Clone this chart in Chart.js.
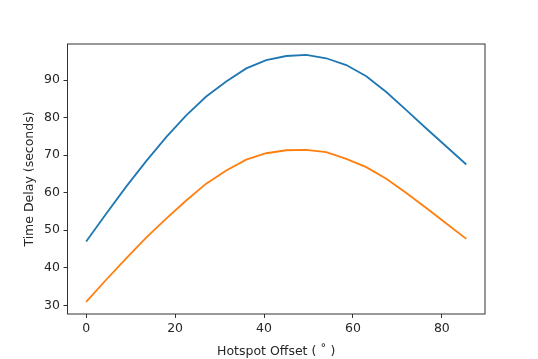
<!DOCTYPE html>
<html>
<head>
<meta charset="utf-8">
<script src="https://cdn.jsdelivr.net/npm/chart.js@4.4.1/dist/chart.umd.min.js"></script>
<style>
  html, body { margin: 0; padding: 0; background: #ffffff; }
  #wrap { width: 538px; height: 359px; }
</style>
</head>
<body>
<div id="wrap"><canvas id="c" width="538" height="359"></canvas></div>
<script>
// Hotspot offset (degrees)
const offsets = [0, 4.5, 9, 13.5, 18, 22.5, 27, 31.5, 36, 40.5, 45, 49.5, 54, 58.5, 63, 67.5, 72, 76.5, 81, 85.5];
// Time delay series (seconds)
const delayBlue = [47.0, 54.4, 61.6, 68.4, 74.8, 80.6, 85.6, 89.6, 93.1, 95.3, 96.4, 96.7, 95.8, 94.0, 91.0, 86.8, 82.0, 77.1, 72.3, 67.5];
const delayOrange = [30.9, 36.8, 42.5, 48.0, 53.1, 57.9, 62.4, 65.9, 68.8, 70.5, 71.3, 71.4, 70.8, 69.0, 66.8, 63.7, 59.9, 55.9, 51.8, 47.7];
// Tick labels
const xTicks = [0, 20, 40, 60, 80];
const yTicks = [30, 40, 50, 60, 70, 80, 90];
const xTitle = 'Hotspot Offset ( \u02DA )';
const yTitle = 'Time Delay (seconds)';

const toPts = (ys) => offsets.map((x, i) => ({ x: x, y: ys[i] }));
const FONT = { family: 'DejaVu Sans', size: 12.5 };

const frame = {
  id: 'frame',
  afterDatasetsDraw(chart) {
    const a = chart.chartArea, ctx = chart.ctx;
    ctx.save();
    ctx.strokeStyle = '#333333';
    ctx.lineWidth = 1;
    ctx.strokeRect(a.left, a.top, a.right - a.left, a.bottom - a.top);
    ctx.restore();
  }
};

new Chart(document.getElementById('c'), {
  type: 'line',
  data: {
    datasets: [
      { data: toPts(delayBlue), borderColor: '#1f77b4', borderWidth: 1.8, pointRadius: 0, fill: false, tension: 0 },
      { data: toPts(delayOrange), borderColor: '#ff7f0e', borderWidth: 1.8, pointRadius: 0, fill: false, tension: 0 }
    ]
  },
  options: {
    responsive: false,
    animation: false,
    events: [],
    layout: { padding: { left: 0, top: 44, right: 53, bottom: 0 } },
    plugins: { legend: { display: false }, tooltip: { enabled: false } },
    scales: {
      x: {
        type: 'linear',
        min: -4.2,
        max: 89.7,
        afterBuildTicks: (s) => { s.ticks = xTicks.map(v => ({ value: v })); },
        afterFit: (s) => { s.height = 45; },
        grid: { drawOnChartArea: false, drawTicks: true, tickLength: 4, tickColor: '#333333', tickWidth: 1 },
        border: { display: false },
        ticks: { color: '#262626', font: FONT, padding: 3.5, maxRotation: 0, autoSkip: false },
        title: { display: true, text: xTitle, color: '#262626', font: FONT, padding: { top: 0, bottom: 0 } }
      },
      y: {
        type: 'linear',
        min: 27.68,
        max: 99.6,
        afterBuildTicks: (s) => { s.ticks = yTicks.map(v => ({ value: v })); },
        afterFit: (s) => { s.width = 67.5; },
        grid: { drawOnChartArea: false, drawTicks: true, tickLength: 4, tickColor: '#333333', tickWidth: 1 },
        border: { display: false },
        ticks: { color: '#262626', font: FONT, padding: 3.5, autoSkip: false },
        title: { display: true, text: yTitle, color: '#262626', font: FONT, padding: { top: 22, bottom: 0 } }
      }
    }
  },
  plugins: [frame]
});
</script>
</body>
</html>
